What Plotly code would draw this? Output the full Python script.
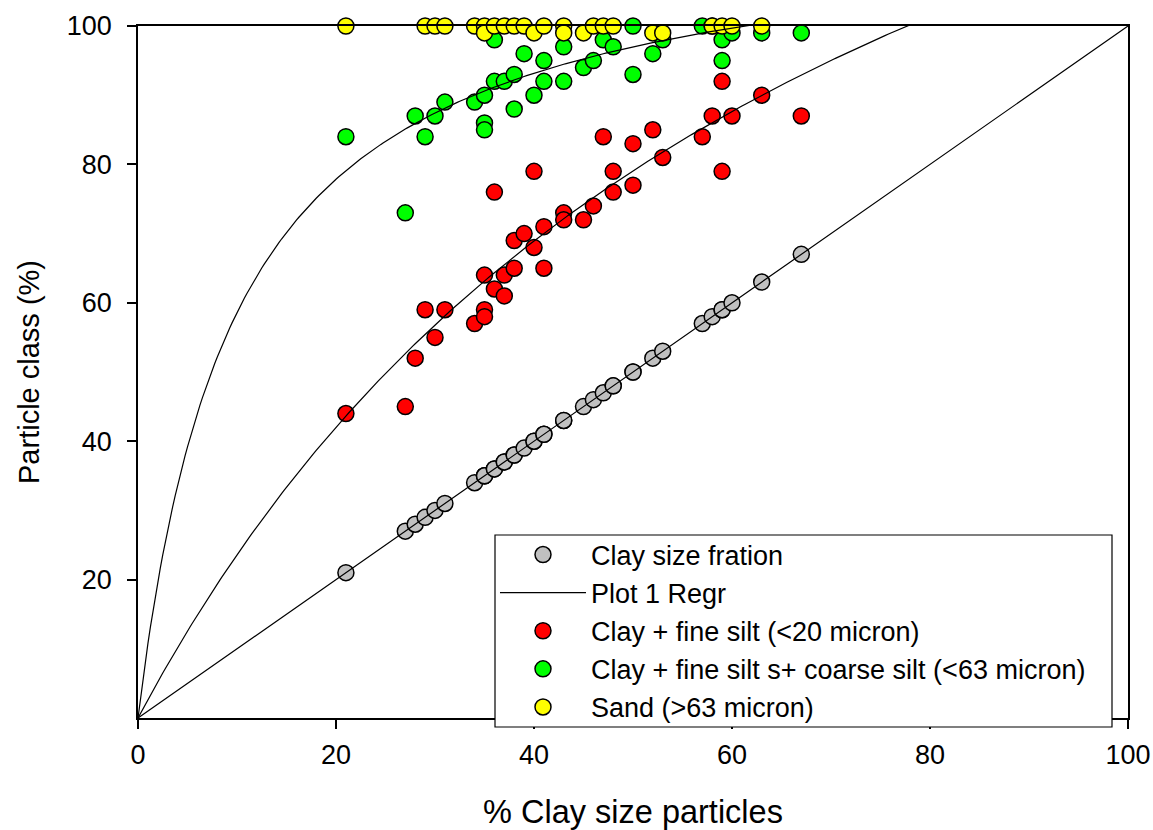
import plotly.graph_objects as go
import numpy as np

# ---- data ----
clay_x = [21, 27, 28, 29, 30, 31, 34, 35, 35, 35, 36, 36, 37, 37, 38, 38, 39, 40, 40,
          41, 41, 43, 43, 45, 46, 47, 48, 48, 50, 50, 52, 53, 57, 58, 59, 59, 60, 63, 67]
clay_y = list(clay_x)

fine_x = [21, 27, 28, 29, 30, 31, 34, 35, 35, 35, 36, 36, 37, 37, 38, 38, 39, 40, 40,
          41, 41, 43, 43, 45, 46, 47, 48, 48, 50, 50, 52, 53, 57, 58, 59, 59, 60, 63, 67]
fine_y = [44, 45, 52, 59, 55, 59, 57, 64, 59, 58, 62, 76, 64, 61, 69, 65, 70, 68, 79,
          71, 65, 73, 72, 72, 74, 84, 79, 76, 83, 77, 85, 81, 84, 87, 92, 79, 87, 90, 87]

coarse_x = [21, 27, 28, 29, 30, 31, 34, 35, 35, 35, 36, 36, 37, 38, 38, 39, 40, 41, 41,
            43, 43, 45, 46, 47, 48, 50, 50, 52, 53, 57, 58, 59, 59, 60, 63, 67]
coarse_y = [84, 73, 87, 84, 87, 89, 89, 90, 86, 85, 92, 98, 92, 93, 88, 96, 90, 95, 92,
            97, 92, 94, 95, 98, 97, 100, 93, 96, 98, 100, 100, 98, 95, 99, 99, 99]

sand_x = [21, 29, 30, 31, 34, 35, 35, 36, 37, 38, 39, 40, 41, 43, 43, 45, 46, 47, 48,
          52, 53, 58, 59, 60, 63]
sand_y = [100, 100, 100, 100, 100, 100, 99, 100, 100, 100, 100, 99, 100, 100, 99, 99,
          100, 100, 100, 99, 99, 100, 100, 100, 100]

# regression curves (y = a*x/(b+x)), parameters
regr_fine = (191.8, 71.3)
regr_coarse = (116.0, 9.8)
regr_x = np.linspace(0, 100, 401)

FONT = "Arial, 'Liberation Sans', sans-serif"

fig = go.Figure()

def pts(x, y, color, name, rank):
    fig.add_trace(go.Scatter(
        x=x, y=y, mode="markers", name=name, legendrank=rank,
        marker=dict(size=16, color=color, line=dict(color="black", width=1.5)),
        cliponaxis=False))

pts(clay_x, clay_y, "#C0C0C0", "Clay size fration", 1)
pts(fine_x, fine_y, "#FF0000", "Clay + fine silt (<20 micron)", 3)
pts(coarse_x, coarse_y, "#00FF00", "Clay + fine silt s+ coarse silt (<63 micron)", 4)
pts(sand_x, sand_y, "#FFFF00", "Sand (>63 micron)", 5)

line = dict(color="black", width=1.2)
fig.add_trace(go.Scatter(x=regr_x, y=regr_x, mode="lines", line=line,
                         name="Plot 1 Regr", legendrank=2, legendgroup="regr"))
for a, b in (regr_fine, regr_coarse):
    fig.add_trace(go.Scatter(x=regr_x, y=a * regr_x / (b + regr_x), mode="lines",
                             line=line, name="Plot 1 Regr", legendgroup="regr",
                             showlegend=False))

axis_common = dict(
    range=[0, 100], showgrid=False, zeroline=False, showline=True, mirror=True,
    linecolor="black", linewidth=1.5, ticks="outside", ticklen=9, tickwidth=1.5,
    tickcolor="black", tickfont=dict(family=FONT, size=27, color="black"),
    automargin=False,
)

# legend frame (white box drawn over the axes, legend entries sit on it)
fig.add_shape(type="rect", xref="paper", yref="paper",
              x0=(495 - 138) / 990, x1=(1112 - 138) / 990,
              y0=(718 - 727) / 692, y1=(718 - 535) / 692,
              fillcolor="white", line=dict(color="black", width=1.2), layer="above")

fig.update_layout(
    width=1153, height=830,
    margin=dict(l=138, r=25, t=26, b=112),
    paper_bgcolor="white", plot_bgcolor="white",
    font=dict(family=FONT, color="black"),
    showlegend=True,
    legend=dict(
        x=0.3606, y=(718 - 631) / 692, xanchor="left", yanchor="middle",
        bgcolor="rgba(0,0,0,0)", borderwidth=0,
        font=dict(family=FONT, size=27, color="black"),
        itemwidth=86, traceorder="normal",
    ),
)
fig.update_xaxes(**axis_common, tickvals=[0, 20, 40, 60, 80, 100],
                 ticklabelstandoff=3,
                 title=dict(text="% Clay size particles",
                            font=dict(family=FONT, size=32.5), standoff=47))
fig.update_yaxes(**axis_common, tickvals=[20, 40, 60, 80, 100],
                 ticklabelstandoff=10,
                 title=dict(text="Particle class (%)",
                            font=dict(family=FONT, size=29), standoff=19))

fig.write_html("out.html")
